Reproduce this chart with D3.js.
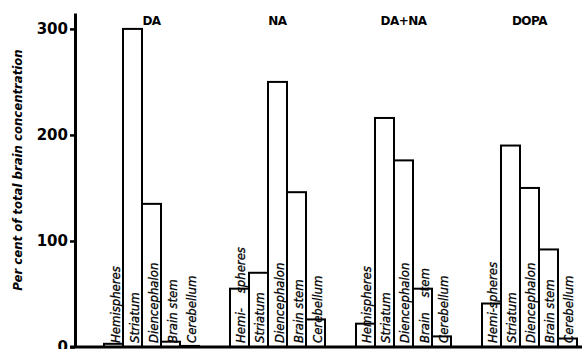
<!DOCTYPE html>
<html>
<head>
<meta charset="utf-8">
<script src="https://cdn.jsdelivr.net/npm/d3@7"></script>
<style>
  body { margin: 0; background: #fff; }
  svg { display: block; }
</style>
</head>
<body>
<div id="chart"></div>
<script>
// chart size
const width = 582;
const height = 349;

// data
const groups = ["DA", "NA", "DA+NA", "DOPA"];
const regions = ["Hemispheres", "Striatum", "Diencephalon", "Brain stem", "Cerebellum"];
const valuesDA = [3, 300, 135, 5, 1];
const valuesNA = [55, 70, 250, 146, 26];
const valuesDANA = [22, 216, 176, 55, 10];
const valuesDOPA = [41, 190, 150, 92, 8];
// bar labels as printed (some are hyphenated / spaced differently)
const labelsDA = ["Hemispheres", "Striatum", "Diencephalon", "Brain stem", "Cerebellum"];
const labelsNA = ["Hemi-    spheres", "Striatum", "Diencephalon", "Brain stem", "Cerebellum"];
const labelsDANA = ["Hemispheres", "Striatum", "Diencephalon", "Brain    stem", "Cerebellum"];
const labelsDOPA = ["Hemi-spheres", "Striatum", "Diencephalon", "Brain stem", "Cerebellum"];
const yTicks = [0, 100, 200, 300];
const yTitle = "Per cent of total brain concentration";

const allValues = [valuesDA, valuesNA, valuesDANA, valuesDOPA];
const allLabels = [labelsDA, labelsNA, labelsDANA, labelsDOPA];

// flatten into rows for binding
const rows = [];
groups.forEach((g, gi) => {
  regions.forEach((r, ri) => {
    rows.push({ group: g, region: r, value: allValues[gi][ri], label: allLabels[gi][ri] });
  });
});

const svg = d3.select("#chart")
  .append("svg")
  .attr("width", width)
  .attr("height", height);

// scales
const y = d3.scaleLinear()
  .domain([0, 315])
  .range([347, 13]);

const xGroup = d3.scaleBand()
  .domain(groups)
  .range([104, 577])
  .paddingInner(0.246)
  .paddingOuter(0);

const xRegion = d3.scaleBand()
  .domain(regions)
  .range([0, xGroup.bandwidth()]);

// y axis
const yAxis = svg.append("g")
  .attr("transform", "translate(75,0)")
  .call(d3.axisLeft(y).tickValues(yTicks).tickSize(5).tickSizeOuter(0).tickPadding(2));

yAxis.select(".domain").attr("stroke-width", 3);
yAxis.selectAll(".tick line").attr("stroke-width", 2.5);
yAxis.selectAll(".tick text")
  .attr("font-family", "DejaVu Sans")
  .attr("font-weight", "bold")
  .attr("font-size", 15)
  .attr("fill", "#000");

// y title
svg.append("text")
  .attr("transform", "translate(17,170) rotate(-90)")
  .attr("text-anchor", "middle")
  .attr("dominant-baseline", "central")
  .attr("font-family", "DejaVu Sans Condensed")
  .attr("font-weight", "bold")
  .attr("font-style", "italic")
  .attr("font-size", 13)
  .text(yTitle);

// bars
svg.selectAll(".bar")
  .data(rows)
  .enter()
  .append("rect")
  .attr("class", "bar")
  .attr("x", d => xGroup(d.group) + xRegion(d.region))
  .attr("y", d => y(d.value))
  .attr("width", xRegion.bandwidth())
  .attr("height", d => y(0) - y(d.value))
  .attr("fill", "#fff")
  .attr("stroke", "#000")
  .attr("stroke-width", 2);

// bar labels, rotated, inside the bars
svg.selectAll(".bar-label")
  .data(rows)
  .enter()
  .append("text")
  .attr("class", "bar-label")
  .attr("transform", d => `translate(${xGroup(d.group) + xRegion(d.region) + xRegion.bandwidth() / 2 + 1.5},${y(0) - 4}) rotate(-90)`)
  .attr("dominant-baseline", "central")
  .attr("font-family", "DejaVu Sans Condensed")
  .attr("font-style", "italic")
  .attr("font-size", 13)
  .attr("stroke", "#000")
  .attr("stroke-width", 0.3)
  .style("white-space", "pre")
  .text(d => d.label);

// group titles
svg.selectAll(".group-title")
  .data(groups)
  .enter()
  .append("text")
  .attr("class", "group-title")
  .attr("x", d => xGroup(d) + xGroup.bandwidth() / 2)
  .attr("y", 25)
  .attr("text-anchor", "middle")
  .attr("font-family", "DejaVu Sans")
  .attr("font-weight", "bold")
  .attr("font-size", 12)
  .attr("letter-spacing", -0.5)
  .text(d => d);

// baseline
svg.append("line")
  .attr("x1", 70)
  .attr("x2", width)
  .attr("y1", y(0))
  .attr("y2", y(0))
  .attr("stroke", "#000")
  .attr("stroke-width", 3);
</script>
</body>
</html>
